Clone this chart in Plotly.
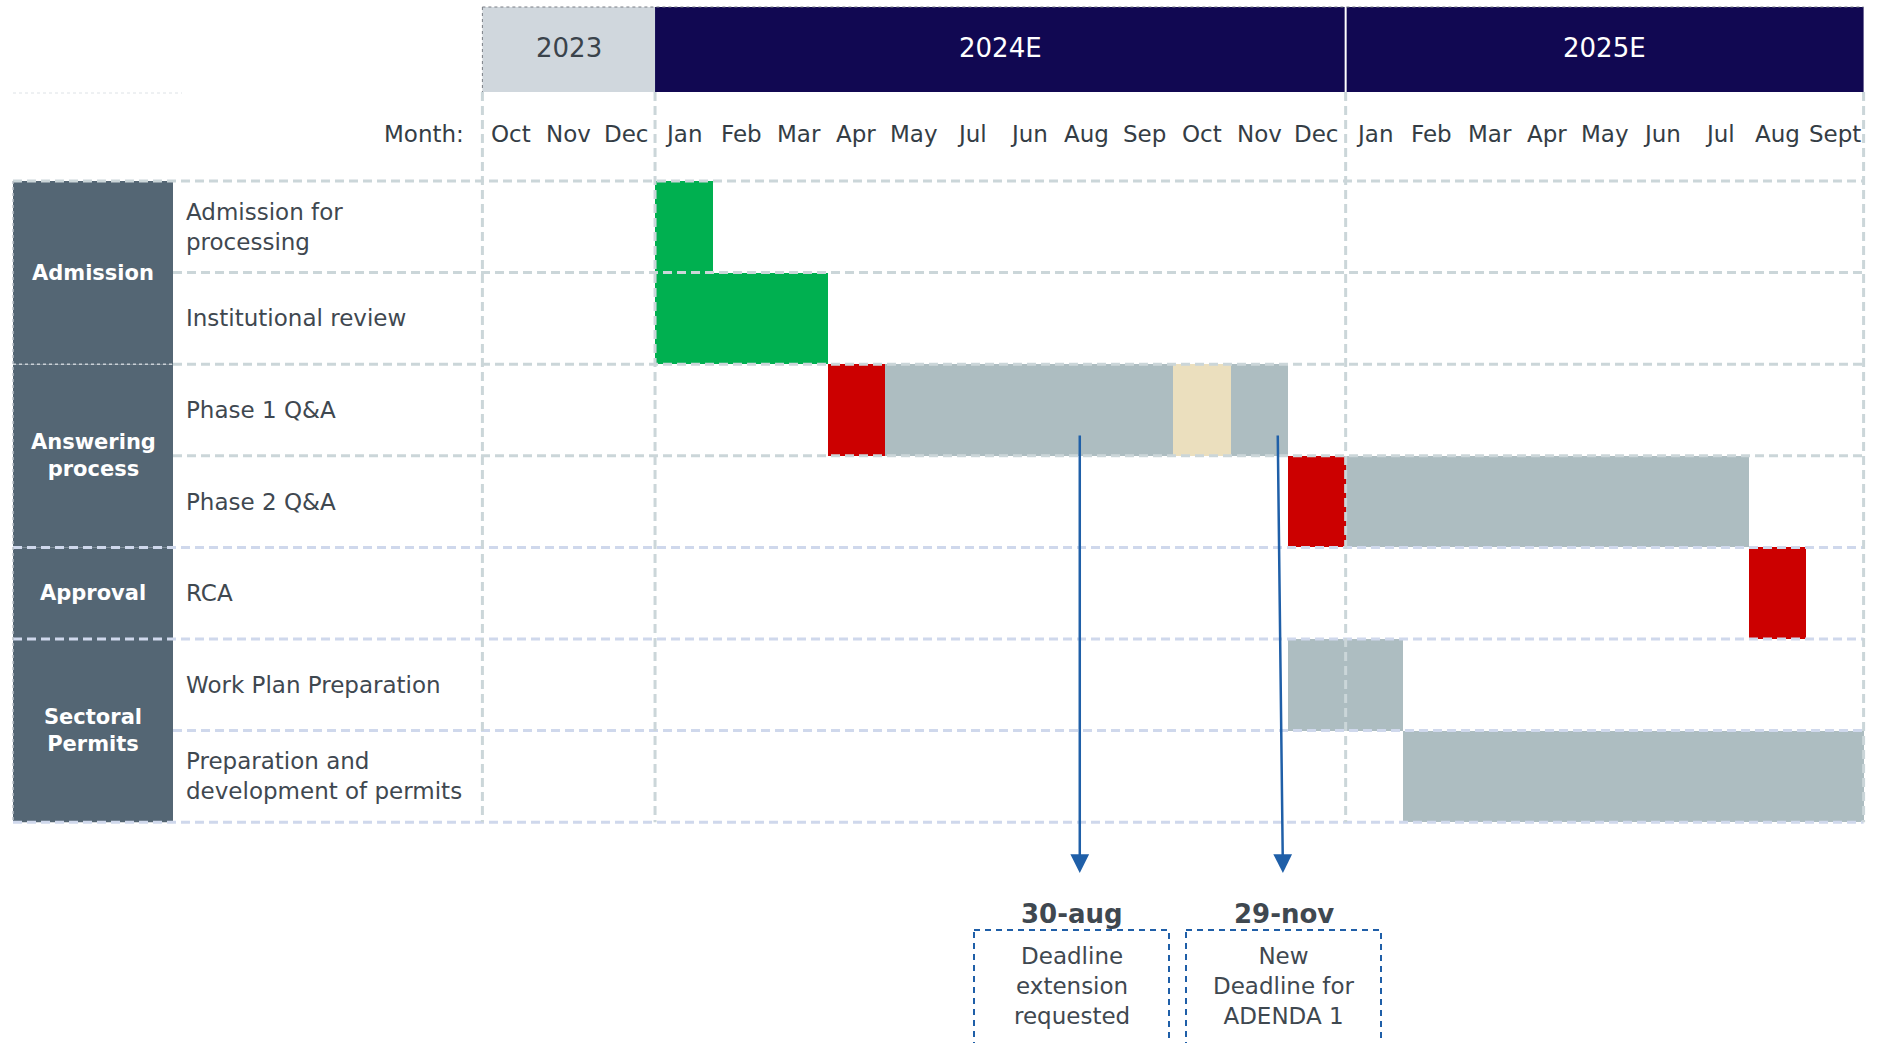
import plotly.graph_objects as go

# ---------------- data ----------------
years = ["2023", "2024E", "2025E"]
year_months = [3, 12, 9]
month_labels = ["Oct", "Nov", "Dec",
                "Jan", "Feb", "Mar", "Apr", "May", "Jul", "Jun", "Aug", "Sep", "Oct", "Nov", "Dec",
                "Jan", "Feb", "Mar", "Apr", "May", "Jun", "Jul", "Aug", "Sept"]
categories = ["Admission", "Answering<br>process", "Approval", "Sectoral<br>Permits"]
category_rows = [2, 2, 1, 2]
tasks = ["Admission for<br>processing", "Institutional review", "Phase 1 Q&A", "Phase 2 Q&A",
         "RCA", "Work Plan Preparation", "Preparation and<br>development of permits"]

# bars: task row index, start month index (0 = Oct 2023), duration in months, status
bar_task = [0, 1, 2, 2, 2, 2, 3, 3, 4, 5, 6]
bar_start = [3, 3, 6, 7, 12, 13, 14, 15, 22, 14, 16]
bar_len = [1, 3, 1, 5, 1, 1, 1, 7, 1, 2, 8]
bar_status = ["done", "done", "submit", "process", "extension", "process",
              "submit", "process", "submit", "process", "process"]

milestone_dates = ["30-aug", "29-nov"]
milestone_texts = ["Deadline<br>extension<br>requested", "New<br>Deadline for<br>ADENDA 1"]
milestone_x_top = [10.38, 13.82]
milestone_x_tip = [10.38, 13.91]

# ---------------- styles ----------------
status_colors = {"done": "#00B050", "submit": "#CC0000", "process": "#ADBDC1", "extension": "#EBDFBE"}
year_fill = ["#D0D7DD", "#110852", "#110852"]
year_font = ["#3A434B", "#FFFFFF", "#FFFFFF"]
TXT = "#3F4850"
HDR = "#343D45"
CAT_BG = "#546674"
GRID1 = "#CBD6D9"
GRID2 = "#CFD8EC"
ARROW = "#1F5FA8"
FONT = "DejaVu Sans"

W, H = 1882, 1043
X0PX, MW = 482.4, 57.55      # px of month 0, month width px
Y0PX, RH = 181.0, 91.6       # px of table top, row height px


def xd(px):
    return (px - X0PX) / MW


def yd(px):
    return (px - Y0PX) / RH


n_months = sum(year_months)
n_rows = len(tasks)
cat_left, cat_right = xd(13), xd(173)

fig = go.Figure()

# bars
fig.add_trace(go.Bar(
    orientation="h",
    y=[t + 0.5 for t in bar_task],
    x=bar_len,
    base=bar_start,
    width=1.0,
    marker=dict(color=[status_colors[s] for s in bar_status], line=dict(width=0)),
    hoverinfo="skip",
    showlegend=False,
))

shapes = []
annotations = []

# year header
start = 0
for yr, nm, fc, tc in zip(years, year_months, year_fill, year_font):
    shapes.append(dict(type="rect", xref="x", yref="y", x0=start, x1=start + nm,
                       y0=yd(7), y1=yd(92), fillcolor=fc, line=dict(width=0), layer="below"))
    annotations.append(dict(x=start + nm / 2, y=yd(48), xref="x", yref="y", text=yr, showarrow=False,
                            font=dict(family=FONT, size=26, color=tc)))
    start += nm
# separator between navy boxes
shapes.append(dict(type="line", xref="x", yref="y", x0=year_months[0] + year_months[1],
                   x1=year_months[0] + year_months[1], y0=yd(7), y1=yd(92),
                   line=dict(color="#FFFFFF", width=2), layer="above"))
# dotted header border
shapes.append(dict(type="line", xref="x", yref="y", x0=0, x1=n_months, y0=yd(7), y1=yd(7),
                   line=dict(color="#7A7F86", width=1, dash="dot"), layer="above"))
shapes.append(dict(type="line", xref="x", yref="y", x0=0, x1=0, y0=yd(7), y1=yd(92),
                   line=dict(color="#7A7F86", width=1, dash="dot"), layer="above"))
shapes.append(dict(type="line", xref="x", yref="y", x0=cat_left, x1=xd(182), y0=yd(93), y1=yd(93),
                   line=dict(color="#DDE2E6", width=1, dash="dot"), layer="above"))

# month labels
annotations.append(dict(x=xd(466), y=yd(134), xref="x", yref="y", text="Month:", showarrow=False,
                        xanchor="right", font=dict(family=FONT, size=23, color=HDR)))
for i, m in enumerate(month_labels):
    annotations.append(dict(x=i + 0.5, y=yd(134), xref="x", yref="y", text=m, showarrow=False,
                            font=dict(family=FONT, size=23, color=HDR)))

# category boxes
r = 0
for c, nr in zip(categories, category_rows):
    shapes.append(dict(type="rect", xref="x", yref="y", x0=cat_left, x1=cat_right, y0=r, y1=r + nr,
                       fillcolor=CAT_BG, line=dict(width=0), layer="below"))
    annotations.append(dict(x=(cat_left + cat_right) / 2, y=r + nr / 2, xref="x", yref="y", text=c,
                            showarrow=False, align="center",
                            font=dict(family=FONT, size=21, color="#FFFFFF", weight="bold")))
    r += nr

# task labels
for i, t in enumerate(tasks):
    annotations.append(dict(x=xd(184), y=i + 0.5, xref="x", yref="y", text=t, showarrow=False,
                            xanchor="left", align="left",
                            font=dict(family=FONT, size=23, color=TXT)))

# horizontal grid lines
cat_bounds = [0]
for nr in category_rows:
    cat_bounds.append(cat_bounds[-1] + nr)
DASH = "9px,5px"
for b in range(n_rows + 1):
    col = GRID1 if b <= 3 else GRID2
    x_start = cat_left if b in cat_bounds else cat_right
    if b == 2:
        shapes.append(dict(type="line", xref="x", yref="y", x0=cat_left, x1=cat_right, y0=b, y1=b,
                           line=dict(color="#C9D0D6", width=1.5, dash="dot"), layer="above"))
        x_start = cat_right
    shapes.append(dict(type="line", xref="x", yref="y", x0=x_start, x1=n_months, y0=b, y1=b,
                       line=dict(color=col, width=3, dash=DASH), layer="above"))

# vertical grid lines at year boundaries
vb = [0]
for nm in year_months:
    vb.append(vb[-1] + nm)
for v in vb:
    shapes.append(dict(type="line", xref="x", yref="y", x0=v, x1=v, y0=yd(92), y1=n_rows,
                       line=dict(color=GRID1, width=3, dash=DASH), layer="above"))
shapes.append(dict(type="line", xref="x", yref="y", x0=cat_left, x1=cat_left, y0=0, y1=n_rows,
                   line=dict(color="#B9C0C6", width=1.5, dash="dot"), layer="above"))

# milestones
box_edges = [(xd(974), xd(1169)), (xd(1186), xd(1381))]
for d, t, xt, xp, (bx0, bx1) in zip(milestone_dates, milestone_texts, milestone_x_top, milestone_x_tip, box_edges):
    annotations.append(dict(x=xp, y=yd(873), ax=xt, ay=yd(434), xref="x", yref="y", axref="x", ayref="y",
                            text="", showarrow=True, arrowhead=2, arrowsize=1.5, arrowwidth=2.5,
                            arrowcolor=ARROW, standoff=0))
    cx = (bx0 + bx1) / 2
    annotations.append(dict(x=cx, y=yd(914), xref="x", yref="y", text=d, showarrow=False,
                            font=dict(family=FONT, size=26, color=TXT, weight="bold")))
    annotations.append(dict(x=cx, y=yd(986), xref="x", yref="y", text=t, showarrow=False,
                            align="center", font=dict(family=FONT, size=23, color=TXT)))
    shapes.append(dict(type="rect", xref="x", yref="y", x0=bx0, x1=bx1, y0=yd(930), y1=yd(1080),
                       line=dict(color=ARROW, width=2, dash="6px,5px"), fillcolor="rgba(0,0,0,0)",
                       layer="above"))

fig.update_layout(
    width=W, height=H,
    margin=dict(l=0, r=0, t=0, b=0),
    paper_bgcolor="white", plot_bgcolor="white",
    showlegend=False,
    shapes=shapes,
    annotations=annotations,
    bargap=0,
    xaxis=dict(range=[xd(0), xd(W)], visible=False, fixedrange=True),
    yaxis=dict(range=[yd(H), yd(0)], visible=False, fixedrange=True),
)

fig.write_html("out.html", config={"displayModeBar": False})
